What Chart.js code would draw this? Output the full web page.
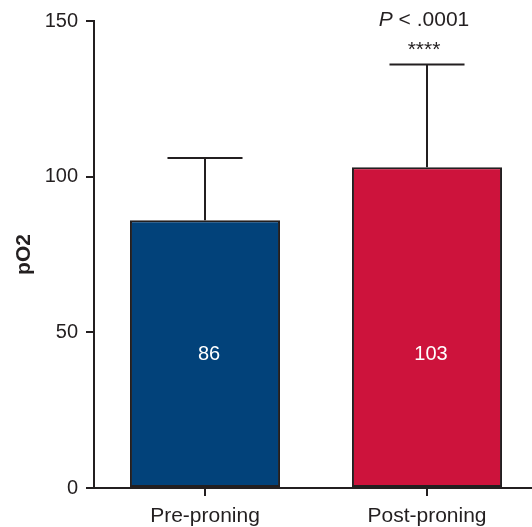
<!DOCTYPE html>
<html>
<head>
<meta charset="utf-8">
<script src="https://cdn.jsdelivr.net/npm/chart.js@4"></script>
<style>
  html, body { margin: 0; padding: 0; background: #fff; overflow: hidden; }
  #wrap { width: 540px; height: 527px; }
</style>
</head>
<body>
<div id="wrap"><canvas id="po2Chart"></canvas></div>
<script>
// pO2 before and after proning (mean + SD)
const groups = ['Pre-proning', 'Post-proning'];
const meanPO2 = [86, 103];
const sdPO2 = [20, 33];
const barColors = ['#02427a', '#cd133c'];
const yMax = 150;
const yStep = 50;
const pText = '< .0001';
const stars = '****';

const ink = '#231f20';
const fontFamily = '"Liberation Sans", Arial, Helvetica, sans-serif';

// whiskers above each bar (mean + SD)
const errorBars = {
    id: 'errorBars',
    afterDatasetsDraw(chart) {
        const ctx = chart.ctx;
        const y = chart.scales.y;
        const meta = chart.getDatasetMeta(0);
        ctx.save();
        ctx.strokeStyle = ink;
        ctx.lineWidth = 2;
        meta.data.forEach((bar, i) => {
            const top = y.getPixelForValue(meanPO2[i] + sdPO2[i]);
            const half = bar.width / 4;
            ctx.beginPath();
            ctx.moveTo(bar.x, bar.y);
            ctx.lineTo(bar.x, top);
            ctx.moveTo(bar.x - half, top);
            ctx.lineTo(bar.x + half, top);
            ctx.stroke();
        });
        ctx.restore();
    }
};

// value labels inside the bars and significance note over the second bar
const barNotes = {
    id: 'barNotes',
    afterDraw(chart) {
        const ctx = chart.ctx;
        const y = chart.scales.y;
        const meta = chart.getDatasetMeta(0);
        ctx.save();
        ctx.textAlign = 'center';
        ctx.textBaseline = 'middle';
        ctx.fillStyle = '#fff';
        ctx.font = '20px ' + fontFamily;
        const labelY = y.getPixelForValue(43);
        meta.data.forEach((bar, i) => {
            ctx.fillText(String(meanPO2[i]), bar.x + 4, labelY);
        });

        const bx = meta.data[1].x - 3;
        ctx.fillStyle = ink;
        ctx.textBaseline = 'alphabetic';
        ctx.font = 'italic 21px ' + fontFamily;
        const pw = ctx.measureText('P ').width;
        ctx.font = '21px ' + fontFamily;
        const rw = ctx.measureText(pText).width;
        const startX = bx - (pw + rw) / 2;
        ctx.textAlign = 'left';
        ctx.font = 'italic 21px ' + fontFamily;
        ctx.fillText('P ', startX, 26);
        ctx.font = '21px ' + fontFamily;
        ctx.fillText(pText, startX + pw, 26);
        ctx.textAlign = 'center';
        ctx.font = '21px ' + fontFamily;
        ctx.fillText(stars, bx, 56);
        ctx.restore();
    }
};

const po2Ctx = document.getElementById('po2Chart').getContext('2d');
const po2Chart = new Chart(po2Ctx, {
    type: 'bar',
    data: {
        labels: groups,
        datasets: [{
            data: meanPO2,
            backgroundColor: barColors,
            borderColor: ink,
            borderWidth: 2,
            borderSkipped: false,
            barPercentage: 0.676,
            categoryPercentage: 1
        }]
    },
    options: {
        responsive: true,
        maintainAspectRatio: false,
        animation: false,
        layout: { padding: { top: 21, right: 2, bottom: 0, left: 0 } },
        plugins: {
            legend: { display: false },
            tooltip: { enabled: false }
        },
        scales: {
            x: {
                grid: { offset: false, drawOnChartArea: false, drawTicks: true, tickLength: 8, color: ink, lineWidth: 2 },
                border: { display: true, color: ink, width: 2 },
                ticks: { color: ink, font: { family: fontFamily, size: 21 }, padding: 8 },
                afterFit(scale) { scale.height = 39; }
            },
            y: {
                min: 0,
                max: yMax,
                ticks: { stepSize: yStep, color: ink, font: { family: fontFamily, size: 20 }, padding: 8 },
                grid: { drawOnChartArea: false, drawTicks: true, tickLength: 8, color: ink, lineWidth: 2 },
                border: { display: true, color: ink, width: 2 },
                title: {
                    display: true,
                    text: 'pO2',
                    color: ink,
                    font: { family: fontFamily, size: 21, weight: 'bold' },
                    padding: { top: 12, bottom: 0 }
                },
                afterFit(scale) { scale.width = 94; }
            }
        }
    },
    plugins: [errorBars, barNotes]
});
</script>
</body>
</html>
